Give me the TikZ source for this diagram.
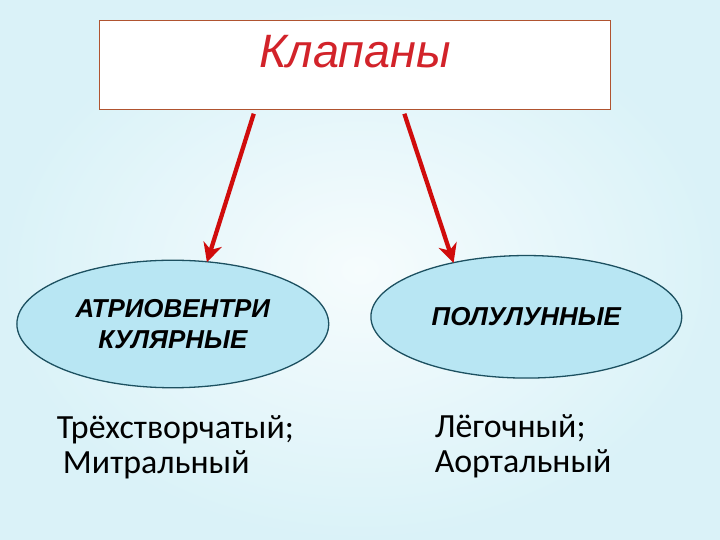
\documentclass[tikz,border=0pt]{standalone}
\usepackage{fontspec}
\setmainfont{Carlito}
\newfontfamily\headfont{Liberation Sans}
\usepackage{tikz,tkz-graph}
\usetikzlibrary{arrows.meta,shapes.geometric}
\definecolor{bgEdge}{RGB}{218,242,248}
\definecolor{bgMid}{RGB}{246,252,253}
\definecolor{boxLine}{RGB}{176,84,48}
\definecolor{titleRed}{RGB}{210,35,42}
\definecolor{arrowRed}{RGB}{208,12,12}
\definecolor{ovalFill}{RGB}{184,230,243}
\definecolor{ovalLine}{RGB}{28,80,96}
\tikzstyle{titleBox}=[shape = rectangle, minimum width = 512pt, minimum height = 89pt, inner sep = 0pt, draw = boxLine, line width = 0.9pt, fill = white]
\tikzstyle{kindOval}=[shape = ellipse, inner sep = 0pt, draw = ovalLine, line width = 1.3pt, fill = ovalFill, align = center, font = \headfont\bfseries\itshape\fontsize{26}{31}\selectfont]

\begin{document}
\begin{tikzpicture}[scale = 25.4]
\tikzstyle{VertexStyle} = []
\tikzstyle{titleText}=[inner sep = 0pt, text = titleRed, font = \headfont\itshape\fontsize{47}{47}\selectfont]
\tikzstyle{listText}=[inner sep = 0pt, align = left, anchor = west, font = \fontsize{34}{35}\selectfont]
\tikzstyle{valveArrow}=[draw = arrowRed, line width = 4.3pt, -{Stealth[length = 19pt, width = 19pt, inset = 6pt]}]
\shade[inner color = bgMid, outer color = bgEdge] (0, 0) rectangle (1, 0.75);
\useasboundingbox (0, 0) rectangle (1, 0.75);
\Vertex[style = titleBox, x = 0.493, y = 0.660, L = {\relax}]{valves}
\Vertex[style = titleText, x = 0.493, y = 0.678, L = {Клапаны}]{title}
\Vertex[style = {kindOval, minimum width = 313pt, minimum height = 128pt}, x = 0.240, y = 0.300, L = {АТРИОВЕНТРИ\\КУЛЯРНЫЕ}]{av}
\Vertex[style = {kindOval, minimum width = 312pt, minimum height = 123pt}, x = 0.731, y = 0.310, L = {ПОЛУЛУННЫЕ}]{sl}
\Vertex[style = listText, x = 0.079, y = 0.129, L = {Трёхстворчатый;\\\hspace*{0.18em}Митральный}]{avList}
\Vertex[style = listText, x = 0.604, y = 0.130, L = {Лёгочный;\\Аортальный}]{slList}
\coordinate (avFrom) at (0.353, 0.593);
\coordinate (slFrom) at (0.5625, 0.593);
\draw[valveArrow] (avFrom) -- (av.61);
\draw[valveArrow] (slFrom) -- (sl.143);
\end{tikzpicture}
\end{document}
